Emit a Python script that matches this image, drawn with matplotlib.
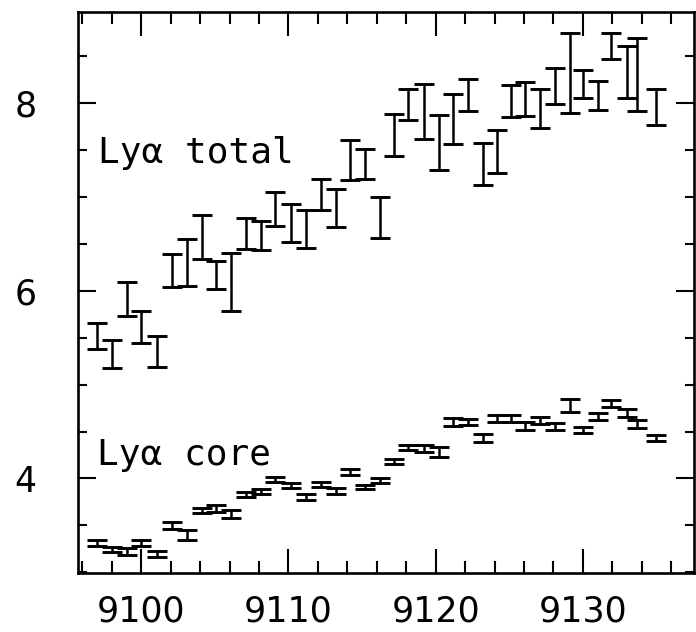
import matplotlib
matplotlib.use("Agg")
import matplotlib.pyplot as plt
from matplotlib.ticker import MultipleLocator

wavelength = [9097.0, 9098.0, 9099.0, 9100.0, 9101.1, 9102.1, 9103.1, 9104.1, 9105.1, 9106.1,
              9107.1, 9108.1, 9109.1, 9110.2, 9111.2, 9112.2, 9113.2, 9114.2, 9115.2, 9116.2,
              9117.2, 9118.1, 9119.2, 9120.2, 9121.2, 9122.2, 9123.2, 9124.2, 9125.1, 9126.1,
              9127.1, 9128.1, 9129.1, 9130.0, 9131.0, 9131.9, 9133.0, 9133.7, 9135.0]

total_val = [5.52, 5.33, 5.91, 5.61, 5.35, 6.22, 6.30, 6.57, 6.17, 6.09,
             6.61, 6.59, 6.87, 6.72, 6.66, 7.025, 6.88, 7.39, 7.35, 6.78,
             7.66, 7.98, 7.91, 7.58, 7.83, 8.09, 7.35, 7.48, 8.02, 8.04,
             7.94, 8.18, 8.32, 8.20, 8.08, 8.61, 8.33, 8.30, 7.96]
total_err = [0.14, 0.15, 0.18, 0.17, 0.165, 0.175, 0.25, 0.235, 0.15, 0.31,
             0.16, 0.155, 0.185, 0.20, 0.20, 0.165, 0.205, 0.215, 0.157, 0.217,
             0.22, 0.165, 0.29, 0.29, 0.27, 0.17, 0.22, 0.23, 0.17, 0.18,
             0.21, 0.19, 0.43, 0.15, 0.15, 0.14, 0.28, 0.39, 0.19]

core_val = [3.31, 3.245, 3.22, 3.31, 3.195, 3.50, 3.40, 3.66, 3.68, 3.62,
            3.83, 3.86, 3.99, 3.93, 3.80, 3.94, 3.865, 4.07, 3.91, 3.98,
            4.18, 4.33, 4.32, 4.285, 4.60, 4.60, 4.43, 4.64, 4.64, 4.56,
            4.615, 4.555, 4.78, 4.515, 4.66, 4.80, 4.70, 4.58, 4.43]
core_err = [0.03, 0.027, 0.035, 0.03, 0.03, 0.035, 0.053, 0.03, 0.034, 0.04,
            0.027, 0.025, 0.027, 0.027, 0.03, 0.027, 0.03, 0.03, 0.023, 0.023,
            0.03, 0.03, 0.035, 0.053, 0.04, 0.035, 0.04, 0.035, 0.035, 0.04,
            0.035, 0.04, 0.07, 0.035, 0.035, 0.04, 0.045, 0.045, 0.035]

labels = ["Ly\u03b1 total", "Ly\u03b1 core"]
xticks = [9100, 9110, 9120, 9130]
yticks = [4, 6, 8]

fig = plt.figure(figsize=(6.96, 6.32), dpi=100)
ax = fig.add_axes([78/696, 1 - 573.3/632, (694 - 78)/696, (573.3 - 12)/632])

kw = dict(fmt="none", ecolor="black", elinewidth=1.8, capsize=7, capthick=2.1)
ax.errorbar(wavelength, total_val, yerr=total_err, **kw)
ax.errorbar(wavelength, core_val, yerr=core_err, **kw)

ax.set_xlim(9095.7, 9137.55)
ax.set_ylim(2.99, 8.97)
ax.set_xticks(xticks)
ax.set_yticks(yticks)
ax.xaxis.set_minor_locator(MultipleLocator(2))
ax.yaxis.set_minor_locator(MultipleLocator(0.5))

for s in ax.spines.values():
    s.set_linewidth(1.9)

ax.tick_params(axis="x", which="major", direction="in", length=17, width=1.5,
               top=True, bottom=True, labelsize=25, pad=15)
ax.tick_params(axis="x", which="minor", direction="in", length=8.5, width=1.5,
               top=True, bottom=True)
ax.tick_params(axis="y", which="major", direction="in", length=13, width=1.5,
               left=True, right=True, labelsize=25, pad=30)
ax.tick_params(axis="y", which="minor", direction="in", length=6.5, width=1.5,
               left=True, right=True)

ax.text(98/696, 1 - 163/632, labels[0], transform=fig.transFigure,
        fontsize=26, family="DejaVu Sans Mono", va="baseline", ha="left")
ax.text(97/696, 1 - 465/632, labels[1], transform=fig.transFigure,
        fontsize=26, family="DejaVu Sans Mono", va="baseline", ha="left")

fig.savefig("out.png", dpi=100)
